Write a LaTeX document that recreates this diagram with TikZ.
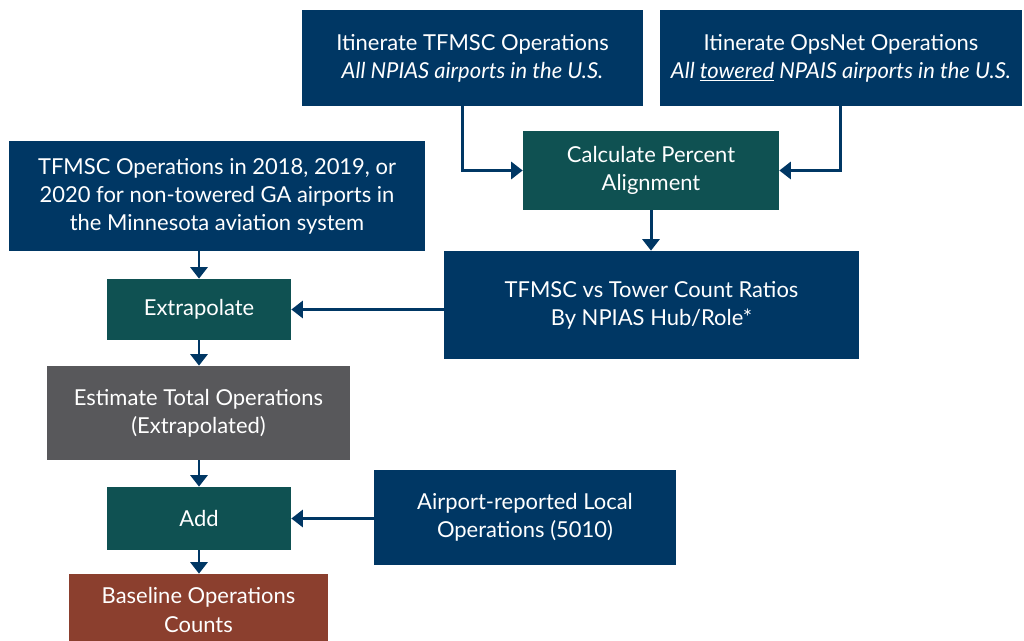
\documentclass[tikz,border=0pt]{standalone}
\usepackage{fontspec}
\setmainfont{Lato}
\usetikzlibrary{arrows.meta, positioning}
\definecolor{navyblue}{RGB}{0, 55, 100}
\definecolor{darkteal}{RGB}{15, 81, 82}
\definecolor{slategray}{RGB}{88, 88, 91}
\definecolor{rustred}{RGB}{139, 63, 46}

\begin{document}
\begin{tikzpicture}[
    x=0.02cm, y=-0.02cm,
    box/.style={rectangle, draw=none, text=white, align=center, inner sep=0pt, font=\fontsize{12.5}{16}\selectfont},
    arrow/.style={-{Triangle[length=2.3mm, width=3.4mm]}, line width=1.7pt, color=navyblue},
]
\useasboundingbox (0,0) rectangle (1024,641);

% Sources
\node[box, fill=navyblue, minimum width=6.82cm, minimum height=1.92cm] (tfmsc) at (472.5, 58) {Itinerate TFMSC Operations\\\textit{All NPIAS airports in the U.S.}};
\node[box, fill=navyblue, minimum width=7.24cm, minimum height=1.92cm] (opsnet) at (841, 58) {Itinerate OpsNet Operations\\\textit{All \underline{towered} NPAIS airports in the U.S.}};

% Alignment
\node[box, fill=darkteal, minimum width=5.12cm, minimum height=1.58cm] (align) at (651, 170.5) {Calculate Percent\\Alignment};
\node[box, fill=navyblue, minimum width=8.3cm, minimum height=2.16cm] (ratios) at (651.5, 305) {TFMSC vs Tower Count Ratios\\By NPIAS Hub/Role*};

% GA airports
\node[box, fill=navyblue, minimum width=8.32cm, minimum height=2.2cm] (gaops) at (217, 196) {TFMSC Operations in 2018, 2019, or\\2020 for non-towered GA airports in\\the Minnesota aviation system};
\node[box, fill=darkteal, minimum width=3.68cm, minimum height=1.22cm] (extrap) at (199, 309.5) {Extrapolate};
\node[box, fill=slategray, minimum width=6.06cm, minimum height=1.88cm] (estimate) at (198.5, 413) {Estimate Total Operations\\(Extrapolated)};

% Local operations
\node[box, fill=darkteal, minimum width=3.68cm, minimum height=1.26cm] (add) at (199, 518.5) {Add};
\node[box, fill=navyblue, minimum width=6.04cm, minimum height=1.9cm] (local) at (525, 517.5) {Airport-reported Local\\Operations (5010)};

% Result
\node[box, fill=rustred, minimum width=5.18cm, minimum height=1.44cm] (baseline) at (198.5, 610) {Baseline Operations\\Counts};

\draw[arrow] ([xshift=-0.21cm]tfmsc.south) |- (align.west);
\draw[arrow] ([xshift=-0.02cm]opsnet.south) |- (align.east);
\draw[arrow] (align.south) -- (align.south |- ratios.north);
\draw[arrow] (gaops.south -| extrap.north) -- (extrap.north);
\draw[arrow] (ratios.west |- extrap.east) -- (extrap.east);
\draw[arrow] (extrap.south) -- (extrap.south |- estimate.north);
\draw[arrow] (estimate.south -| add.north) -- (add.north);
\draw[arrow] (local.west |- add.east) -- (add.east);
\draw[arrow] (add.south) -- (add.south |- baseline.north);

\end{tikzpicture}
\end{document}
